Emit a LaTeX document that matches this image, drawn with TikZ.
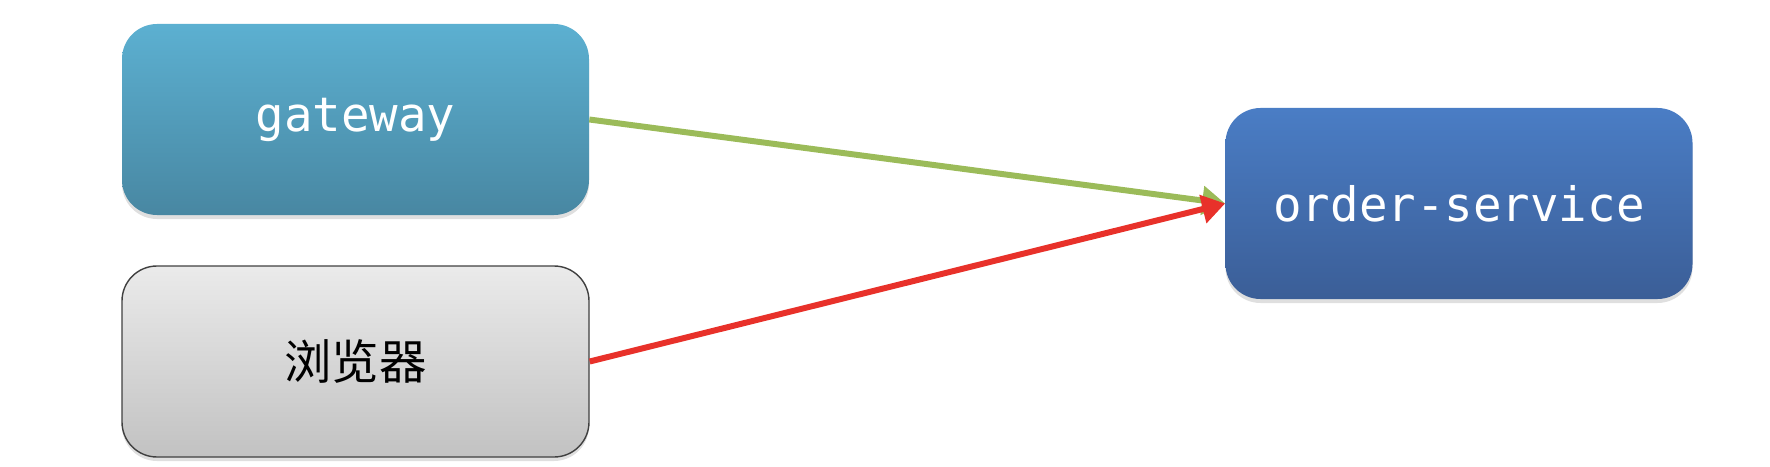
\documentclass[tikz,border=0pt]{standalone}
\usepackage{fontspec}
\setmonofont{DejaVu Sans Mono}
\newfontfamily\cjk{Noto Sans CJK SC}
\usetikzlibrary{arrows.meta,shadows}

\definecolor{gwtop}{HTML}{5CB0D1}
\definecolor{gwbot}{HTML}{4887A2}
\definecolor{ostop}{HTML}{4A7DC5}
\definecolor{osbot}{HTML}{3B5E97}
\definecolor{lngreen}{HTML}{9BBB59}
\definecolor{lnred}{HTML}{E8312A}

\begin{document}
\begin{tikzpicture}[
    svcbox/.style={rounded corners=0.7cm,minimum width=9.34cm,minimum height=3.82cm,
      inner sep=0pt,font=\ttfamily\fontsize{27}{30}\selectfont,text=white,
      drop shadow={shadow xshift=0pt,shadow yshift=-0.08cm,opacity=0.25}},
    call/.style={line width=3.4pt,-{Triangle[length=0.46cm,width=0.56cm]}}
  ]
        \useasboundingbox (0,0) rectangle (35.4,9.32) ;
        \node[svcbox,top color=gwtop,bottom color=gwbot] (gateway) at (7.11,6.93) {gateway} ;
        \node[svcbox,draw=black!75,line width=0.8pt,top color=black!8,bottom color=black!24,
          text=black,font=\cjk\fontsize{27}{30}\selectfont] (browser) at (7.11,2.09) {浏览器} ;
        \node[svcbox,top color=ostop,bottom color=osbot] (order) at (29.18,5.25) {order-service} ;
        % both requests go to the same service
        \draw[call,color=lngreen] (gateway.east) -- (order.west) ;
        \draw[call,color=lnred] (browser.east) -- (order.west) ;
      \end{tikzpicture}
\end{document}
